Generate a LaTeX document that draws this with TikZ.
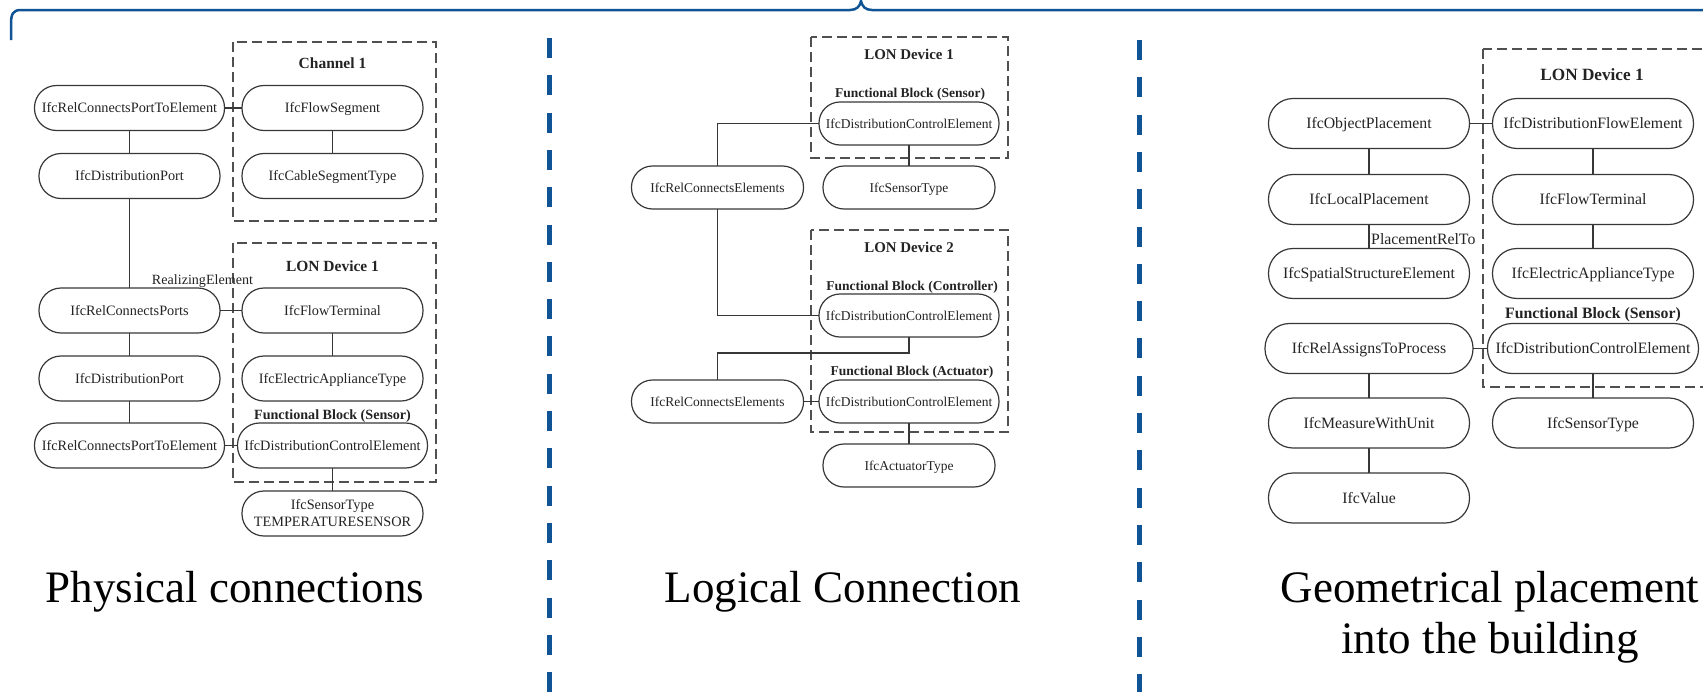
\documentclass[tikz,border=0pt]{standalone}
\usepackage{fontspec}
\setmainfont{Liberation Serif}
\usetikzlibrary{calc}
\definecolor{bracecol}{RGB}{16,84,150}
\definecolor{linecol}{RGB}{55,55,55}
\definecolor{txtcol}{RGB}{35,35,35}
\definecolor{dashcol}{RGB}{80,80,80}

\begin{document}
\begin{tikzpicture}[x=1pt,y=-1pt,
  pill/.style={draw=linecol, line width=1.2pt, text=txtcol, inner sep=0pt, outer sep=0pt},
  lpillbase/.style={pill, minimum width=181pt, minimum height=45pt, rounded corners=22pt,
    font=\fontsize{14.3}{17}\selectfont},
  lpill/.style={lpillbase, text height=12.9pt, text depth=3.4pt},
  mpill/.style={pill, minimum width=172pt, minimum height=43pt, rounded corners=21pt,
    font=\fontsize{13.5}{16}\selectfont, text height=12.2pt, text depth=3.2pt},
  rpill/.style={pill, minimum width=201pt, minimum height=50pt, rounded corners=24.5pt,
    font=\fontsize{15.8}{19}\selectfont, text height=14.2pt, text depth=3.8pt},
  wire/.style={draw=linecol, line width=1.2pt},
  groupbox/.style={draw=dashcol, line width=1.4pt, dash pattern=on 10pt off 5pt},
  ghead/.style={text=txtcol, inner sep=0pt, anchor=base, font=\fontsize{#1}{#1}\selectfont\bfseries},
  elabel/.style={text=txtcol, inner sep=0pt, font=\fontsize{#1}{#1}\selectfont},
  caption/.style={text=black, inner sep=0pt, anchor=base, font=\fontsize{45}{51}\selectfont},
  sepline/.style={draw=bracecol, line width=5pt, dash pattern=on 20pt off 17.3pt},
  bracepath/.style={draw=bracecol, line width=2.5pt}
]
\useasboundingbox (0,0) rectangle (1703,691);
\clip (0,0) rectangle (1703,691);

% ---------- overall brace and panel separators ----------
\draw[bracepath] (11,40) -- (11,24) .. controls (11,14) and (13,10) .. (21,10)
  -- (850,10) .. controls (857,10) and (860,6) .. (861,1)
  .. controls (862,6) and (865,10) .. (872,10) -- (1710,10);
\draw[sepline] (549,38) -- (549,700);
\draw[sepline] (1139,40) -- (1139,700);

% ---------- physical connections ----------
\draw[groupbox] (233,42) rectangle (436,221);
\draw[groupbox] (233,243) rectangle (436,482);
\node[ghead=15.5] (lch) at (332.5,68) {Channel 1};
\node[ghead=15.5] (llon) at (332.5,271) {LON Device 1};
\node[ghead=14.1] (lfb) at (332.5,419) {Functional Block (Sensor)};

\node[lpill, minimum width=190pt] (lrpe1) at (129.5,108) {IfcRelConnectsPortToElement};
\node[lpill] (lseg) at (332.5,108) {IfcFlowSegment};
\node[lpill] (lport1) at (129.5,176) {IfcDistributionPort};
\node[lpill] (lcable) at (332.5,176) {IfcCableSegmentType};
\node[lpill] (lrcp) at (129.5,310.5) {IfcRelConnectsPorts};
\node[lpill] (lterm) at (332.5,310.5) {IfcFlowTerminal};
\node[lpill] (lport2) at (129.5,378.5) {IfcDistributionPort};
\node[lpill] (lappl) at (332.5,378.5) {IfcElectricApplianceType};
\node[lpill, minimum width=190pt] (lrpe2) at (129.5,445.5) {IfcRelConnectsPortToElement};
\node[lpill, minimum width=190pt] (ldce) at (332.5,445.5) {IfcDistributionControlElement};
\node[lpillbase, align=center] (lsens) at (332.5,513.5) {IfcSensorType\\TEMPERATURESENSOR};
\node[elabel=14.1, anchor=base] (lreal) at (202.5,284) {RealizingElement};

\draw[wire] (lrpe1) -- (lseg);
\draw[wire] (lrpe1) -- (lport1);
\draw[wire] (lseg) -- (lcable);
\draw[wire] (lport1) -- (lrcp);
\draw[wire] (lrcp) -- (lterm);
\draw[wire] (lterm) -- (lappl);
\draw[wire] (lrcp) -- (lport2);
\draw[wire] (lport2) -- (lrpe2);
\draw[wire] (lrpe2) -- (ldce);
\draw[wire] (ldce) -- (lsens);

% ---------- logical connection ----------
\draw[groupbox] (811,37) rectangle (1008,158);
\draw[groupbox] (811,230) rectangle (1008,432);
\node[ghead=14.9] (mlon1) at (909,59) {LON Device 1};
\node[ghead=13.5] (mfb1) at (910,97.5) {Functional Block (Sensor)};
\node[ghead=14.9] (mlon2) at (909,252) {LON Device 2};
\node[ghead=13.5] (mfb2) at (912,290.5) {Functional Block (Controller)};
\node[ghead=13.5] (mfb3) at (912,375.5) {Functional Block (Actuator)};

\node[mpill, minimum width=180pt] (mdce1) at (909,123.5) {IfcDistributionControlElement};
\node[mpill] (msens) at (909,187.5) {IfcSensorType};
\node[mpill] (mrel1) at (717.5,187.5) {IfcRelConnectsElements};
\node[mpill, minimum width=180pt] (mdce2) at (909,315.5) {IfcDistributionControlElement};
\node[mpill] (mrel2) at (717.5,401.5) {IfcRelConnectsElements};
\node[mpill, minimum width=180pt] (mdce3) at (909,401.5) {IfcDistributionControlElement};
\node[mpill] (mact) at (909,465.5) {IfcActuatorType};
\coordinate (mjoin) at (717.5,353);

\draw[wire] (mrel1.north) |- (mdce1.west);
\draw[wire] (mrel1.south) |- (mdce2.west);
\draw[wire] (mdce2.south) |- (mjoin) -- (mrel2.north);
\draw[wire] (mrel2) -- (mdce3);
\draw[wire] (mdce1) -- (msens);
\draw[wire] (mdce3) -- (mact);

% ---------- geometrical placement ----------
\draw[groupbox] (1483,49) rectangle (1712,387);
\node[ghead=17.2] (rlon) at (1592,80) {LON Device 1};
\node[ghead=15.8] (rfb) at (1593,318) {Functional Block (Sensor)};

\node[rpill] (robj) at (1369,123.5) {IfcObjectPlacement};
\node[rpill] (rdfe) at (1593,123.5) {IfcDistributionFlowElement};
\node[rpill] (rloc) at (1369,199.5) {IfcLocalPlacement};
\node[rpill] (rterm) at (1593,199.5) {IfcFlowTerminal};
\node[rpill] (rspat) at (1369,273.5) {IfcSpatialStructureElement};
\node[rpill] (rappl) at (1593,273.5) {IfcElectricApplianceType};
\node[rpill, minimum width=208pt] (rproc) at (1369,348.5) {IfcRelAssignsToProcess};
\node[rpill, minimum width=211pt] (rdce) at (1593,348.5) {IfcDistributionControlElement};
\node[rpill] (rmeas) at (1369,423) {IfcMeasureWithUnit};
\node[rpill] (rsens) at (1593,423) {IfcSensorType};
\node[rpill] (rval) at (1369,498) {IfcValue};
\node[elabel=15.8, anchor=base west] (rrel) at (1371,244.5) {PlacementRelTo};

\draw[wire] (robj) -- (rdfe);
\draw[wire] (robj) -- (rloc);
\draw[wire] (rloc) -- (rspat);
\draw[wire] (rdfe) -- (rterm);
\draw[wire] (rterm) -- (rappl);
\draw[wire] (rproc) -- (rdce);
\draw[wire] (rproc) -- (rmeas);
\draw[wire] (rmeas) -- (rval);
\draw[wire] (rdce) -- (rsens);

% ---------- panel captions ----------
\node[caption] (cphys) at (235,602) {Physical connections};
\node[caption] (clog) at (843,602) {Logical Connection};
\node[caption] (cgeo1) at (1490,602) {Geometrical placement};
\node[caption] (cgeo2) at (1490,653) {into the building};
\end{tikzpicture}
\end{document}
